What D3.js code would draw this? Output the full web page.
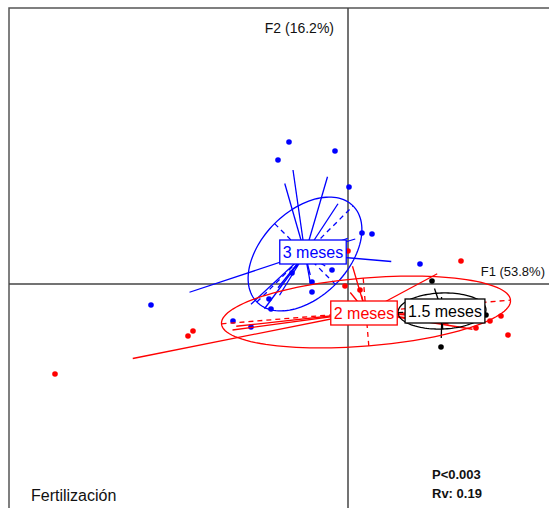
<!DOCTYPE html>
<html>
<head>
<meta charset="utf-8">
<script src="https://cdn.jsdelivr.net/npm/d3@7"></script>
<style>
  html, body { margin: 0; padding: 0; background: #fff; }
  svg { display: block; }
</style>
</head>
<body>
<svg id="chart" width="549" height="508"></svg>
<script>
// Class labels (sampling time) and their colours
const classes = ["3 meses", "2 meses", "1.5 meses"];
const classColors = ["#0000ff", "#ff0000", "#000000"];

// Individual scores on F1 / F2, one list per class
const points3m = [
  [-0.59, 1.42], [-0.13, 1.33], [-0.70, 1.24], [0.01, 0.97], [0.14, 0.51],
  [0.24, 0.50], [-0.16, 0.14], [-0.56, 0.11], [-0.36, 0.02], [-0.36, -0.08],
  [-0.79, -0.15], [-0.77, -0.25], [-1.97, -0.21], [-1.15, -0.37], [-0.97, -0.43],
  [0.72, 0.20]
];
const points2m = [
  [0.00, 0.33], [-0.03, -0.02], [0.12, -0.06], [-1.55, -0.47], [-1.60, -0.52],
  [-2.93, -0.90], [1.13, 0.23], [1.42, -0.37], [1.53, -0.32], [1.28, -0.44],
  [1.60, -0.51]
];
const points15m = [
  [0.84, 0.03], [1.38, -0.31], [0.93, -0.63]
];

// Class centroids (F1, F2)
const centroids = [[-0.43, 0.30], [0.18, -0.28], [0.94, -0.27]];

// Inertia ellipses: semi-major, semi-minor, angle of major axis (degrees)
const ellipseA = [0.68, 1.45, 0.44];
const ellipseB = [0.43, 0.34, 0.18];
const ellipseAngle = [45, 4.7, 2];

// Axis titles and annotations
const axisTitles = ["F1 (53.8%)", "F2 (16.2%)"];
const panelTitle = "Fertilización";
const stats = ["P<0.003", "Rv: 0.19"];

const cstar = 0.75;

const svg = d3.select("#chart");

const x = d3.scaleLinear().domain([-3.39, 2.01]).range([9, 549]);
const y = d3.scaleLinear().domain([-2.24, 2.76]).range([508, 8]);

const groups = [points3m, points2m, points15m];

// frame
svg.append("rect")
  .attr("x", 9).attr("y", 8).attr("width", 600).attr("height", 600)
  .attr("fill", "none").attr("stroke", "#555").attr("stroke-width", 1.5);

// F1 / F2 axes through the origin
svg.append("line")
  .attr("x1", x(-3.39)).attr("x2", x(2.01)).attr("y1", y(0)).attr("y2", y(0))
  .attr("stroke", "#444").attr("stroke-width", 1.5);
svg.append("line")
  .attr("x1", x(0)).attr("x2", x(0)).attr("y1", y(2.76)).attr("y2", y(-2.24))
  .attr("stroke", "#444").attr("stroke-width", 1.5);

// axis titles
svg.append("text")
  .attr("x", x(0) - 14).attr("y", 33)
  .attr("text-anchor", "end")
  .attr("font-family", "Liberation Sans, Arial, sans-serif")
  .attr("font-size", 14).attr("fill", "#111")
  .text(axisTitles[1]);
svg.append("text")
  .attr("x", 545).attr("y", y(0) - 8)
  .attr("text-anchor", "end")
  .attr("font-family", "Liberation Sans, Arial, sans-serif")
  .attr("font-size", 13).attr("fill", "#111")
  .text(axisTitles[0]);

// points
groups.forEach((pts, i) => {
  svg.append("g").selectAll("circle").data(pts).join("circle")
    .attr("cx", d => x(d[0])).attr("cy", d => y(d[1]))
    .attr("r", 2.8).attr("fill", classColors[i]);
});

// stars: centroid towards each individual
groups.forEach((pts, i) => {
  const c = centroids[i];
  svg.append("g").selectAll("line").data(pts).join("line")
    .attr("x1", x(c[0])).attr("y1", y(c[1]))
    .attr("x2", d => x(c[0] + cstar * (d[0] - c[0])))
    .attr("y2", d => y(c[1] + cstar * (d[1] - c[1])))
    .attr("stroke", classColors[i]).attr("stroke-width", 1.3);
});

// ellipses with dashed principal axes
const ellLine = d3.line().x(d => x(d[0])).y(d => y(d[1]));
groups.forEach((pts, i) => {
  const c = centroids[i], a = ellipseA[i], b = ellipseB[i];
  const t = ellipseAngle[i] * Math.PI / 180;
  const ct = Math.cos(t), st = Math.sin(t);
  const ring = d3.range(0, 361, 3).map(k => {
    const u = k * Math.PI / 180;
    return [c[0] + a * ct * Math.cos(u) - b * st * Math.sin(u),
            c[1] + a * st * Math.cos(u) + b * ct * Math.sin(u)];
  });
  svg.append("path").attr("d", ellLine(ring))
    .attr("fill", "none").attr("stroke", classColors[i]).attr("stroke-width", 1.3);
  const axes = [
    [[c[0] - a * ct, c[1] - a * st], [c[0] + a * ct, c[1] + a * st]],
    [[c[0] + b * st, c[1] - b * ct], [c[0] - b * st, c[1] + b * ct]]
  ];
  axes.forEach(seg => {
    svg.append("path").attr("d", ellLine(seg))
      .attr("fill", "none").attr("stroke", classColors[i])
      .attr("stroke-width", 1.3).attr("stroke-dasharray", "5,4");
  });
});

// class labels in boxes at the centroids
const labelNudge = [[8, -2], [-2, 1], [3, 0]];
classes.forEach((name, i) => {
  const c = centroids[i];
  const g = svg.append("g")
    .attr("transform", `translate(${x(c[0]) + labelNudge[i][0]},${y(c[1]) + labelNudge[i][1]})`);
  const txt = g.append("text")
    .attr("text-anchor", "middle").attr("dy", "0.36em")
    .attr("font-family", "Liberation Sans, Arial, sans-serif")
    .attr("font-size", 16).attr("fill", classColors[i])
    .text(name);
  const bb = txt.node().getBBox();
  g.insert("rect", "text")
    .attr("x", bb.x - 3).attr("y", -12).attr("width", bb.width + 6).attr("height", 24)
    .attr("fill", "#fff").attr("stroke", classColors[i]).attr("stroke-width", 1.3);
});

// panel title and test statistics
svg.append("text")
  .attr("x", 31).attr("y", 501)
  .attr("font-family", "Liberation Sans, Arial, sans-serif")
  .attr("font-size", 16).attr("fill", "#111")
  .text(panelTitle);
svg.append("g").selectAll("text").data(stats).join("text")
  .attr("x", 432).attr("y", (d, i) => 479 + i * 19)
  .attr("font-family", "Liberation Sans, Arial, sans-serif")
  .attr("font-weight", "bold").attr("font-size", 13).attr("fill", "#111")
  .text(d => d);
</script>
</body>
</html>
